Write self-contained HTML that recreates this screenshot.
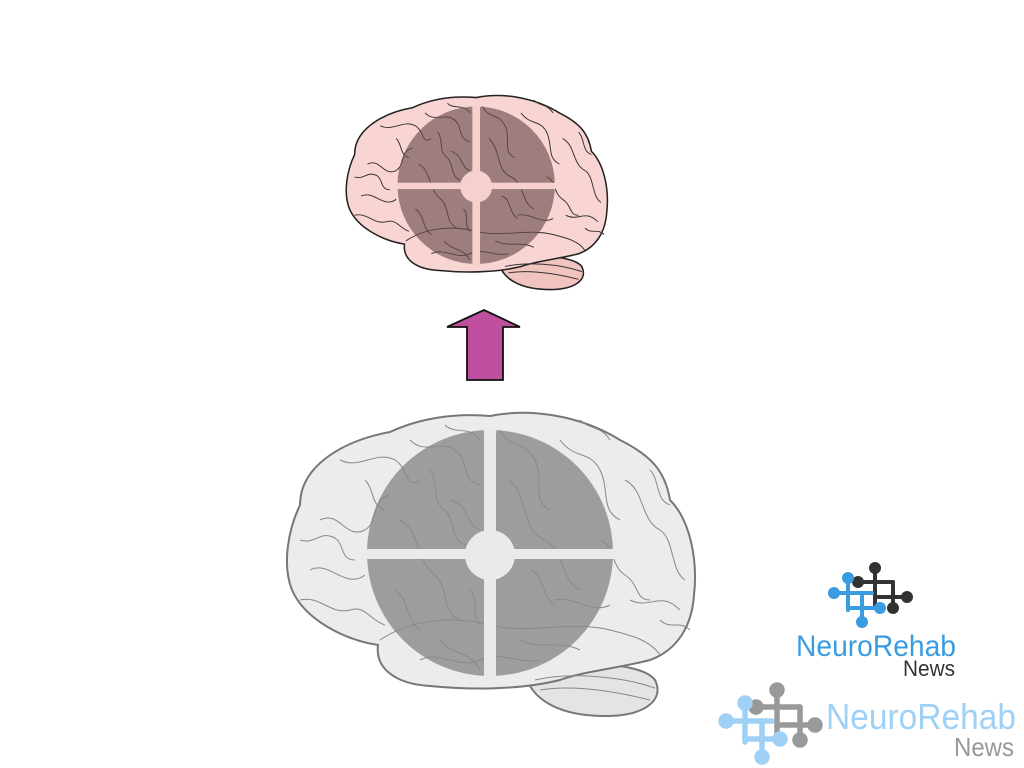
<!DOCTYPE html>
<html><head><meta charset="utf-8"><style>
html,body{margin:0;padding:0;background:#fff;width:1024px;height:768px;overflow:hidden}
svg{display:block}
text{font-family:"Liberation Sans",sans-serif}
</style></head><body>
<svg width="1024" height="768" viewBox="0 0 1024 768" xmlns="http://www.w3.org/2000/svg">
<defs>
<g id="brain">
  <path d="M525,672 C560,660 640,660 655,680 C665,700 645,716 605,716 C560,716 530,700 525,672 Z" style="fill:var(--cb);stroke:var(--st);stroke-width:var(--sw)"/>
  <path d="M300,505 C300,465 345,440 390,432 C420,418 455,413 490,416 C530,408 580,415 620,440 C650,455 665,470 670,500 C690,520 698,560 694,595 C692,625 678,650 650,660 C620,668 580,672 560,680 C520,690 470,690 430,686 C395,684 375,668 378,645 C345,640 305,620 292,590 C282,565 288,530 300,505 Z" style="fill:var(--ol);stroke:var(--st);stroke-width:var(--sw)"/>
  <g style="fill:none;stroke:var(--gs);stroke-width:var(--gw)">
    <path d="M320,520 C340,510 345,540 365,530 C380,520 370,500 390,495"/>
    <path d="M310,570 C330,560 345,590 365,575"/>
    <path d="M340,460 C360,470 375,450 395,460 C410,470 405,490 420,480"/>
    <path d="M410,440 C425,455 440,440 455,450 C470,460 460,480 480,485"/>
    <path d="M500,430 C510,450 525,440 535,460 C545,480 530,500 550,510"/>
    <path d="M560,440 C575,460 590,450 600,470 C610,490 600,510 620,520"/>
    <path d="M625,480 C645,490 640,520 660,530 C675,540 670,570 685,580"/>
    <path d="M630,600 C650,610 660,590 680,610"/>
    <path d="M400,520 C420,530 415,560 435,575 C450,590 440,610 460,620"/>
    <path d="M380,640 C410,620 450,615 490,625 C530,635 570,620 610,630 C630,635 650,640 660,655"/>
    <path d="M420,660 C440,650 460,670 480,660 C500,650 520,665 540,660"/>
    <path d="M510,480 C530,500 520,530 545,540 C565,550 560,580 580,590"/>
    <path d="M555,600 C575,595 590,615 610,605"/>
    <path d="M450,500 C470,505 465,525 480,530"/>
    <path d="M540,690 C570,685 610,690 650,700"/>
    <path d="M535,680 C570,672 620,676 655,688"/>
    <path d="M300,540 C315,545 320,530 335,538 C345,545 340,560 355,560"/>
    <path d="M300,600 C320,595 330,615 350,610 C365,605 370,620 385,625"/>
    <path d="M365,480 C375,490 370,505 385,510"/>
    <path d="M430,470 C440,485 430,500 445,510 C455,520 450,540 465,545"/>
    <path d="M395,590 C410,600 405,620 420,630"/>
    <path d="M470,590 C480,600 470,615 480,625"/>
    <path d="M530,570 C545,575 540,595 555,605"/>
    <path d="M600,540 C615,545 610,565 625,575 C640,585 635,600 650,600"/>
    <path d="M650,470 C660,480 655,500 670,505"/>
    <path d="M580,420 C590,430 600,425 610,440"/>
    <path d="M445,425 C455,435 470,425 480,440"/>
    <path d="M520,640 C540,650 560,640 580,650"/>
    <path d="M440,640 C450,655 470,650 480,670"/>
    <path d="M660,620 C670,630 680,620 690,630"/>
  </g>
  <circle cx="490" cy="553" r="123" style="fill:var(--dc);opacity:var(--do)"/>
  <g style="fill:var(--ln)">
    <rect x="484" y="428" width="12" height="252"/>
    <rect x="366" y="549" width="248" height="10"/>
    <circle cx="490" cy="555" r="25"/>
  </g>
</g>
</defs>
<g style="--ol:#ececec;--cb:#e4e4e4;--st:#777;--sw:2;--gs:#888;--gw:1;--dc:#8a8a8a;--do:0.8;--ln:#eaeaea"><use href="#brain"/></g>
<g style="--ol:#f8d5d2;--cb:#f2c4c0;--st:#222;--sw:2.4;--gs:#333;--gw:1.5;--dc:#6b4e50;--do:0.65;--ln:#f5d0cc" transform="translate(345,95) scale(0.64) translate(-285,-412)"><use href="#brain"/></g>
<path d="M467,380 L467,327 L447,327 L484,310 L520,327 L503,327 L503,380 Z" fill="#c0509f" stroke="#111" stroke-width="1.8"/>
<g stroke-width="4" stroke-linecap="round">
  <g stroke="#333" fill="#333">
    <line x1="875" y1="568" x2="875" y2="608"/><line x1="858" y1="582" x2="893" y2="582"/>
    <line x1="893" y1="582" x2="893" y2="608"/><line x1="875" y1="597" x2="907" y2="597"/>
    <circle cx="875" cy="568" r="4"/><circle cx="858" cy="582" r="4"/><circle cx="907" cy="597" r="4"/><circle cx="893" cy="608" r="4"/>
  </g>
  <g stroke="#3a9ce0" fill="#3a9ce0">
    <line x1="848" y1="578" x2="848" y2="610"/><line x1="834" y1="593" x2="872" y2="593"/>
    <line x1="862" y1="593" x2="862" y2="622"/><line x1="848" y1="608" x2="880" y2="608"/>
    <circle cx="848" cy="578" r="4"/><circle cx="834" cy="593" r="4"/><circle cx="880" cy="608" r="4"/><circle cx="862" cy="622" r="4"/>
  </g>
</g>
<text x="796" y="656" font-size="30" fill="#3a9ce0" textLength="160" lengthAdjust="spacingAndGlyphs">NeuroRehab</text>
<text x="903" y="676" font-size="22" fill="#333" textLength="52" lengthAdjust="spacingAndGlyphs">News</text>
<g stroke-width="5.5" stroke-linecap="round">
  <g stroke="#999" fill="#999">
    <line x1="777" y1="690" x2="777" y2="740"/><line x1="756" y1="707" x2="800" y2="707"/>
    <line x1="800" y1="707" x2="800" y2="740"/><line x1="777" y1="725" x2="815" y2="725"/>
    <circle cx="777" cy="690" r="5"/><circle cx="756" cy="707" r="5"/><circle cx="815" cy="725" r="5"/><circle cx="800" cy="740" r="5"/>
  </g>
  <g stroke="#9fd0f5" fill="#9fd0f5">
    <line x1="745" y1="703" x2="745" y2="742"/><line x1="726" y1="721" x2="772" y2="721"/>
    <line x1="762" y1="721" x2="762" y2="757"/><line x1="745" y1="739" x2="780" y2="739"/>
    <circle cx="745" cy="703" r="5"/><circle cx="726" cy="721" r="5"/><circle cx="780" cy="739" r="5"/><circle cx="762" cy="757" r="5"/>
  </g>
</g>
<text x="826" y="729" font-size="36" fill="#9fd0f5" textLength="190" lengthAdjust="spacingAndGlyphs">NeuroRehab</text>
<text x="954" y="756" font-size="26" fill="#999" textLength="60" lengthAdjust="spacingAndGlyphs">News</text>
</svg>
</body></html>
